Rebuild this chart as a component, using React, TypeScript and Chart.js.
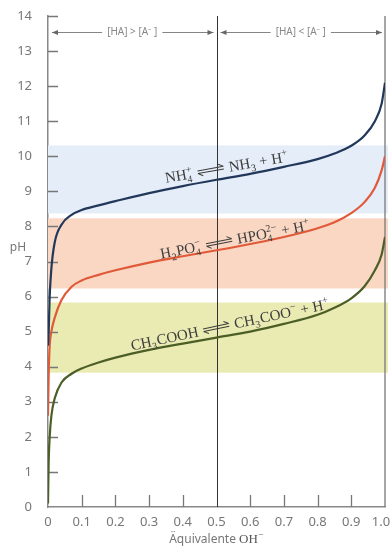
import { useEffect, useRef } from 'react';
import { Chart, registerables } from 'chart.js';

Chart.register(...registerables);

// Equivalents of OH- added (x) and pH read for each buffer system
const equivalents = [0, 0.002, 0.005, 0.01, 0.02, 0.04, 0.07, 0.1, 0.15, 0.2, 0.3, 0.4, 0.5, 0.6, 0.7, 0.8, 0.85, 0.9, 0.94, 0.97, 0.99, 1.0];
const nh4PH = [4.6, 5.0, 6.0, 6.8, 7.55, 8.05, 8.33, 8.47, 8.6, 8.72, 8.95, 9.15, 9.33, 9.5, 9.7, 9.92, 10.08, 10.3, 10.6, 11.0, 11.5, 12.1];
const h2po4PH = [2.6, 3.8, 4.6, 5.0, 5.4, 5.9, 6.28, 6.46, 6.62, 6.75, 6.97, 7.15, 7.32, 7.5, 7.7, 7.95, 8.12, 8.38, 8.7, 9.1, 9.6, 10.0];
const aceticPH = [0.1, 1.3, 2.0, 2.6, 3.1, 3.55, 3.8, 3.95, 4.12, 4.26, 4.48, 4.66, 4.83, 5.0, 5.22, 5.48, 5.68, 5.95, 6.3, 6.75, 7.2, 7.7];

// Buffer regions (pH range)
const bandLow = [8.37, 6.23, 3.83];
const bandHigh = [10.31, 8.23, 5.83];

// Tick labels
const xTickLabels = ['0', '0.1', '0.2', '0.3', '0.4', '0.5', '0.6', '0.7', '0.8', '0.9', '1.0'];
const yTickLabels = ['0', '1', '2', '3', '4', '5', '6', '7', '8', '9', '10', '11', '12', '13', '14'];

const regionLabels = ['[HA] > [A\u207B ]', '[HA] < [A\u207B ]'];

const bandColors = ['#e5edf8', '#fad7c3', '#eaeab3'];
const curveColors = ['#22385a', '#e05a3a', '#4b5e26'];

type Seg = { k: 'n' | 'sub' | 'sup' | 'ss' | 'eq'; s?: string; a?: string; b?: string };

const nh4Label: Seg[] = [
  { k: 'n', s: 'NH' }, { k: 'ss', a: '4', b: '+' }, { k: 'eq' },
  { k: 'n', s: 'NH' }, { k: 'sub', s: '3' }, { k: 'n', s: ' + H' }, { k: 'sup', s: '+' },
];
const h2po4Label: Seg[] = [
  { k: 'n', s: 'H' }, { k: 'sub', s: '2' }, { k: 'n', s: 'PO' }, { k: 'ss', a: '4', b: '\u2212' }, { k: 'eq' },
  { k: 'n', s: 'HPO' }, { k: 'ss', a: '4', b: '2\u2212' }, { k: 'n', s: ' + H' }, { k: 'sup', s: '+' },
];
const aceticLabel: Seg[] = [
  { k: 'n', s: 'CH' }, { k: 'sub', s: '3' }, { k: 'n', s: 'COOH' }, { k: 'eq' },
  { k: 'n', s: 'CH' }, { k: 'sub', s: '3' }, { k: 'n', s: 'COO' }, { k: 'sup', s: '\u2212' }, { k: 'n', s: ' + H' }, { k: 'sup', s: '+' },
];

function drawRich(ctx: CanvasRenderingContext2D, segs: Seg[], cx: number, cy: number, angleDeg: number, size: number, color: string) {
  const big = `${size}px "Liberation Serif"`;
  const small = `${Math.round(size * 0.66)}px "Liberation Serif"`;
  const gap = size * 0.35;
  const eqLen = size * 1.75;
  const widths = segs.map((seg) => {
    if (seg.k === 'n') { ctx.font = big; return ctx.measureText(seg.s!).width; }
    if (seg.k === 'sub' || seg.k === 'sup') { ctx.font = small; return ctx.measureText(seg.s!).width + 0.5; }
    if (seg.k === 'ss') { ctx.font = small; return Math.max(ctx.measureText(seg.a!).width, ctx.measureText(seg.b!).width) + 0.5; }
    return eqLen + 2 * gap;
  });
  const total = widths.reduce((p, c) => p + c, 0);
  ctx.save();
  ctx.translate(cx, cy);
  ctx.rotate((angleDeg * Math.PI) / 180);
  ctx.fillStyle = color;
  ctx.strokeStyle = color;
  ctx.textBaseline = 'alphabetic';
  ctx.textAlign = 'left';
  const y0 = size * 0.33;
  let x = -total / 2;
  segs.forEach((seg, i) => {
    if (seg.k === 'n') { ctx.font = big; ctx.fillText(seg.s!, x, y0); }
    else if (seg.k === 'sub') { ctx.font = small; ctx.fillText(seg.s!, x, y0 + size * 0.25); }
    else if (seg.k === 'sup') { ctx.font = small; ctx.fillText(seg.s!, x, y0 - size * 0.42); }
    else if (seg.k === 'ss') {
      ctx.font = small;
      ctx.fillText(seg.a!, x, y0 + size * 0.25);
      ctx.fillText(seg.b!, x, y0 - size * 0.42);
    } else {
      const x0 = x + gap;
      const x1 = x0 + eqLen;
      const yt = y0 - size * 0.42;
      const yb = y0 - size * 0.24;
      ctx.lineWidth = 1;
      ctx.beginPath();
      ctx.moveTo(x0, yt); ctx.lineTo(x1, yt);
      ctx.moveTo(x1, yt); ctx.lineTo(x1 - size * 0.32, yt - size * 0.2);
      ctx.moveTo(x1, yb); ctx.lineTo(x0, yb);
      ctx.moveTo(x0, yb); ctx.lineTo(x0 + size * 0.32, yb + size * 0.2);
      ctx.stroke();
    }
    x += widths[i];
  });
  ctx.restore();
}

function arrowHead(ctx: CanvasRenderingContext2D, x: number, y: number, dir: number) {
  ctx.beginPath();
  ctx.moveTo(x, y);
  ctx.lineTo(x - dir * 6, y - 2.5);
  ctx.lineTo(x - dir * 6, y + 2.5);
  ctx.closePath();
  ctx.fill();
}

const overlay = {
  id: 'overlay',
  beforeDatasetsDraw(chart: any) {
    const ctx: CanvasRenderingContext2D = chart.ctx;
    const xs = chart.scales.x;
    const ys = chart.scales.y;
    const left = xs.getPixelForValue(0);
    const right = xs.getPixelForValue(1);
    ctx.save();
    bandLow.forEach((lo, i) => {
      const top = ys.getPixelForValue(bandHigh[i]);
      const bot = ys.getPixelForValue(lo);
      ctx.fillStyle = bandColors[i];
      ctx.fillRect(left, top, right - left + 3, bot - top);
    });
    // vertical lines at 0.5 and 1.0
    const top = ys.getPixelForValue(14);
    const bottom = ys.getPixelForValue(0);
    ctx.strokeStyle = '#333';
    ctx.lineWidth = 1;
    ctx.beginPath();
    const xm = Math.round(xs.getPixelForValue(0.5)) + 0.5;
    ctx.moveTo(xm, top); ctx.lineTo(xm, bottom);
    ctx.stroke();
    ctx.strokeStyle = '#777';
    ctx.lineWidth = 1.3;
    ctx.beginPath();
    ctx.moveTo(right, top); ctx.lineTo(right, bottom);
    ctx.stroke();
    // inner tick marks
    ctx.strokeStyle = '#777';
    ctx.lineWidth = 1.3;
    ctx.beginPath();
    yTickLabels.forEach((t) => {
      const v = Number(t);
      if (v === 0) return;
      const y = Math.round(ys.getPixelForValue(v)) + 0.5;
      ctx.moveTo(left, y); ctx.lineTo(left + 10, y);
    });
    xTickLabels.forEach((t) => {
      const v = Number(t);
      if (v === 0 || v === 0.5 || v === 1) return;
      const x = Math.round(xs.getPixelForValue(v)) + 0.5;
      ctx.moveTo(x, bottom); ctx.lineTo(x, bottom - 12);
    });
    ctx.stroke();
    ctx.restore();
  },
  afterDatasetsDraw(chart: any) {
    const ctx: CanvasRenderingContext2D = chart.ctx;
    const xs = chart.scales.x;
    const ys = chart.scales.y;
    ctx.save();
    // x tick labels
    ctx.font = '13px "Noto Sans"';
    ctx.fillStyle = '#777';
    ctx.textAlign = 'center';
    ctx.textBaseline = 'middle';
    const yl = ys.getPixelForValue(0) + 15;
    xTickLabels.forEach((t, i) => {
      const px = xs.getPixelForValue(Number(t)) - (i === xTickLabels.length - 1 ? 4 : 0);
      ctx.fillText(t, px, yl);
    });
    // region arrows
    const ya = Math.round(ys.getPixelForValue(13.55)) + 0.5;
    ctx.font = '10px "Noto Sans"';
    ctx.strokeStyle = '#777';
    ctx.lineWidth = 0.9;
    const spans = [[0, 0.5], [0.5, 1]];
    spans.forEach(([a, b], i) => {
      const xa = xs.getPixelForValue(a) + 4;
      const xb = xs.getPixelForValue(b) - 3;
      const center = i === 0 ? xs.getPixelForValue(0.25) : xs.getPixelForValue(0.75);
      const w = ctx.measureText(regionLabels[i]).width;
      ctx.fillStyle = '#888';
      ctx.fillText(regionLabels[i], center, ya);
      ctx.fillStyle = '#666';
      ctx.beginPath();
      ctx.moveTo(xa, ya); ctx.lineTo(center - w / 2 - 5, ya);
      ctx.moveTo(center + w / 2 + 5, ya); ctx.lineTo(xb, ya);
      ctx.stroke();
      arrowHead(ctx, xa, ya, -1);
      arrowHead(ctx, xb, ya, 1);
    });
    // equilibrium labels
    drawRich(ctx, nh4Label, xs.getPixelForValue(0.53), ys.getPixelForValue(9.69), -10, 15, '#3c3c3c');
    drawRich(ctx, h2po4Label, xs.getPixelForValue(0.555), ys.getPixelForValue(7.63), -11, 15, '#3c3c3c');
    drawRich(ctx, aceticLabel, xs.getPixelForValue(0.54), ys.getPixelForValue(5.2), -12, 15, '#3c3c3c');
    // axis titles
    ctx.fillStyle = '#777';
    ctx.font = '12px "Noto Sans"';
    ctx.textAlign = 'center';
    ctx.textBaseline = 'middle';
    ctx.fillText('pH', 18, ys.getPixelForValue(7.4));
    const t1 = '\u00C4quivalente ';
    ctx.font = '12px "Noto Sans"';
    const w1 = ctx.measureText(t1).width;
    ctx.font = '13px "Liberation Serif"';
    const w2 = ctx.measureText('OH').width;
    const w3 = 6;
    const tot = w1 + w2 + w3;
    const xc = xs.getPixelForValue(0.5) - tot / 2;
    const yt = chart.height - 4;
    ctx.textAlign = 'left';
    ctx.textBaseline = 'alphabetic';
    ctx.font = '12px "Noto Sans"';
    ctx.fillText(t1, xc, yt);
    ctx.fillStyle = '#555';
    ctx.font = '13px "Liberation Serif"';
    ctx.fillText('OH', xc + w1, yt);
    ctx.font = '9px "Liberation Serif"';
    ctx.fillText('\u2212', xc + w1 + w2 + 0.5, yt - 6);
    ctx.restore();
  },
};

export default function App() {
  const ref = useRef<HTMLCanvasElement | null>(null);
  useEffect(() => {
    if (!ref.current) return;
    const mk = (vals: number[]) => equivalents.map((x, i) => ({ x, y: vals[i] }));
    const chart = new Chart(ref.current, {
      type: 'line',
      data: {
        datasets: [nh4PH, h2po4PH, aceticPH].map((vals, i) => ({
          data: mk(vals),
          borderColor: curveColors[i],
          borderWidth: 2.2,
          pointRadius: 0,
          fill: false,
          cubicInterpolationMode: 'monotone' as const,
        })),
      },
      options: {
        responsive: true,
        maintainAspectRatio: false,
        animation: false,
        layout: { padding: { left: 0, top: 16, right: 7, bottom: 0 } },
        plugins: { legend: { display: false }, tooltip: { enabled: false } },
        scales: {
          x: {
            type: 'linear',
            min: 0,
            max: 1,
            afterFit: (s: any) => { s.height = 40; s.paddingLeft = 0; s.paddingRight = 0; },
            afterBuildTicks: (s: any) => { s.ticks = xTickLabels.map((t) => ({ value: Number(t) })); },
            ticks: { display: false },
            grid: { display: false },
            border: { display: true, color: '#888', width: 1.5 },
          },
          y: {
            type: 'linear',
            min: 0,
            max: 14,
            afterFit: (s: any) => { s.width = 48; s.paddingTop = 0; s.paddingBottom = 0; },
            afterBuildTicks: (s: any) => { s.ticks = yTickLabels.map((t) => ({ value: Number(t) })); },
            ticks: {
              autoSkip: false,
              padding: 8,
              color: '#777',
              font: { family: 'Noto Sans', size: 13 },
              callback: (v: any) => String(v),
            },
            grid: { display: false },
            border: { display: true, color: '#888', width: 1.5 },
          },
        },
      },
      plugins: [overlay],
    });
    return () => chart.destroy();
  }, []);
  return (
    <div style={{ position: 'absolute', left: 0, top: 0, width: 392, height: 547, background: '#fff' }}>
      <canvas ref={ref} />
    </div>
  );
}
